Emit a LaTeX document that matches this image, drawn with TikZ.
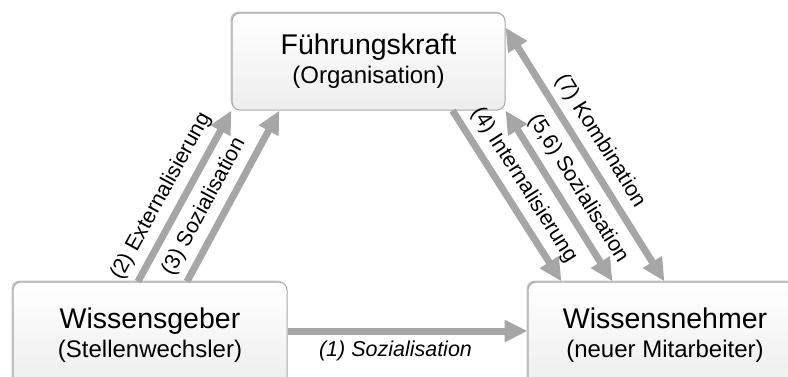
\documentclass[tikz,border=0pt]{standalone}
\usepackage{fontspec}
\setmainfont{Liberation Sans}
\usetikzlibrary{arrows.meta,shadows}
\definecolor{arrgray}{HTML}{A6A6A6}
\definecolor{boxline}{HTML}{A8A8A8}
\begin{document}
\begin{tikzpicture}[x=1pt,y=-1pt,
  box/.style={draw=boxline, line width=1pt, rounded corners=8pt,
    top color=white, bottom color=black!7,
    minimum width=273pt, minimum height=97pt, align=center, inner sep=0pt,
    font=\fontsize{24}{29}\selectfont,
    drop shadow={shadow xshift=-1.5pt, shadow yshift=1.5pt, fill=black!22, opacity=1}},
  arr/.style={draw=arrgray, line width=7pt,
    -{Triangle[length=23pt,width=21pt]}},
  darr/.style={draw=arrgray, line width=7pt,
    {Triangle[length=23pt,width=21pt]}-{Triangle[length=23pt,width=21pt]}},
  lbl/.style={font=\fontsize{21.5}{24}\selectfont, text=black, inner sep=3pt}]
\useasboundingbox (0,0) rectangle (788,376);
\clip (0,0) rectangle (788,376);

\node[box] (top) at (368.5,61.5) {{\fontsize{28.5}{29}\selectfont Führungskraft}\\(Organisation)};
\node[box, minimum width=274pt, minimum height=106pt] (left) at (150,335) {{\fontsize{28.5}{29}\selectfont Wissensgeber}\\(Stellenwechsler)};
\node[box, minimum width=274pt, minimum height=106pt] (right) at (665,335) {{\fontsize{28.5}{29}\selectfont Wissensnehmer}\\(neuer Mitarbeiter)};

\draw[arr] ([yshift=4pt]left.east) -- ([yshift=4pt]right.west)
  node[lbl, pos=0.45, below=3pt] {\itshape (1) Sozialisation};
\draw[arr] ([xshift=-12pt]left.north) -- (top.south west)
  node[lbl, pos=0.44, sloped, above=4pt] {(2) Externalisierung};
\draw[arr] ([xshift=37pt]left.north) -- ([xshift=48pt]top.south west)
  node[lbl, pos=0.38, sloped, above=4pt] {(3) Sozialisation};
\draw[arr] ([xshift=-53pt]top.south east) -- ([xshift=34pt]right.north west)
  node[lbl, pos=0.5, sloped, above=4pt] {(4) Internalisierung};
\draw[darr] (top.south east) -- ([xshift=85pt]right.north west)
  node[lbl, pos=0.52, sloped, above=4pt] {(5,6) Sozialisation};
\draw[darr] ([yshift=-15pt]top.north east) -- ([xshift=137pt]right.north west)
  node[lbl, pos=0.49, sloped, above=4pt] {(7) Kombination};
\end{tikzpicture}
\end{document}
